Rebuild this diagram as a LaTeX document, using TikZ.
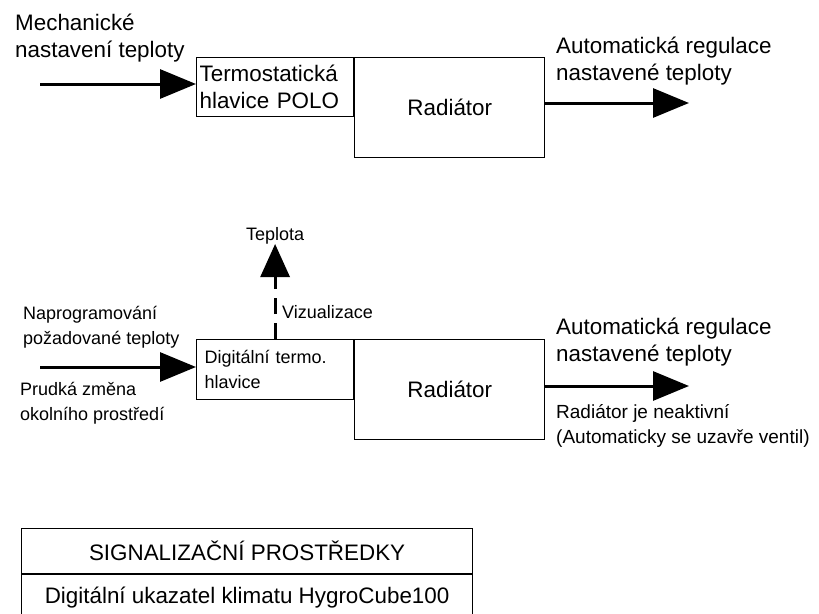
\documentclass[tikz,border=0pt]{standalone}
\usepackage{fontspec}
\setmainfont{Liberation Sans}
\usetikzlibrary{positioning, arrows.meta}

\begin{document}
\begin{tikzpicture}[
    x=1pt, y=1pt,
    bigtxt/.style={font=\fontsize{22.4pt}{27pt}\selectfont},
    smalltxt/.style={font=\fontsize{18pt}{25pt}\selectfont},
    headbox/.style={rectangle, draw, line width=1.2pt, align=left,
                    text width=151pt, inner sep=3pt, minimum height=59pt},
    radbox/.style={rectangle, draw, line width=1.2pt,
                   minimum width=190pt, minimum height=100pt, bigtxt},
    cell/.style={rectangle, draw, line width=1.2pt,
                 minimum width=451pt, minimum height=45pt, bigtxt},
    note/.style={inner sep=0pt, align=left},
    arrow/.style={-{Triangle[length=36pt, width=29pt]}, line width=3pt}
]
\useasboundingbox (0,0) rectangle (819,-613);
% --- Termostaticka hlavice ---
\node[headbox, bigtxt, anchor=north west] (polo) at (196,-57) {Termostatická\\hlavice POLO};
\node[radbox, anchor=north west] (rad1) at (polo.north east) {Radiátor};
\coordinate (in1) at (40,-84);
\coordinate (out1) at (689,-103);
\draw[arrow] (in1) -- (in1 -| polo.west);
\draw[arrow] (out1 -| rad1.east) -- (out1);
\node[note, bigtxt, anchor=south west] (mech) at (15,-62) {Mechanické\\nastavení teploty};
\node[note, bigtxt, anchor=south west] (auto1) at (556,-85) {Automatická regulace\\nastavené teploty};
% --- Digitalni hlavice ---
\node[headbox, smalltxt, anchor=north west, text width=141pt, inner xsep=8pt,
      minimum height=60pt] (digi) at (196,-339) {Digitální termo.\\hlavice};
\node[radbox, anchor=north west] (rad2) at (digi.north east) {Radiátor};
\coordinate (in2) at (40,-367);
\coordinate (out2) at (689,-386);
\draw[arrow] (in2) -- (in2 -| digi.west);
\draw[arrow] (out2 -| rad2.east) -- (out2);
\node[note, smalltxt, above=95pt of digi.north] (teplota) {Teplota};
\draw[arrow, dash pattern=on 16pt off 9pt, -{Triangle[length=33pt, width=29pt]}] (digi) -- (teplota);
\node[note, smalltxt, anchor=west] (viz) at (282,-312) {Vizualizace};
\node[note, smalltxt, anchor=south west] (prog) at (23,-348) {Naprogramování\\požadované teploty};
\node[note, smalltxt, anchor=north west] (zmena) at (20,-382) {Prudká změna\\okolního prostředí};
\node[note, bigtxt, anchor=south west] (auto2) at (556,-366) {Automatická regulace\\nastavené teploty};
\node[note, font=\fontsize{19pt}{25pt}\selectfont, anchor=north west] (neakt) at (556,-404)
    {Radiátor je neaktivní\\(Automaticky se uzavře ventil)};
% --- Signalizacni prostredky ---
\node[cell, anchor=north west] (sig) at (21,-528) {SIGNALIZAČNÍ PROSTŘEDKY};
\node[cell, below=0pt of sig] (hygro) {Digitální ukazatel klimatu HygroCube100};
\end{tikzpicture}
\end{document}
